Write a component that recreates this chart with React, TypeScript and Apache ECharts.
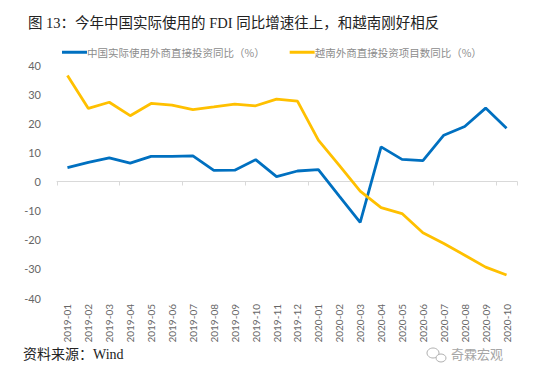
import React, { useEffect, useRef } from "react";
import * as echarts from "echarts";

const categories = [
  "2019-01", "2019-02", "2019-03", "2019-04", "2019-05", "2019-06", "2019-07", "2019-08",
  "2019-09", "2019-10", "2019-11", "2019-12", "2020-01", "2020-02", "2020-03", "2020-04",
  "2020-05", "2020-06", "2020-07", "2020-08", "2020-09", "2020-10",
];
const chinaFdi = [4.8, 6.6, 8.1, 6.3, 8.6, 8.6, 8.8, 3.8, 3.9, 7.5, 1.7, 3.6, 4.1, -5.0, -14.0, 11.9, 7.6, 7.2, 15.9, 18.9, 25.2, 18.3];
const vietnamFdi = [36.4, 25.1, 27.2, 22.6, 26.8, 26.2, 24.7, 25.6, 26.6, 26.0, 28.3, 27.6, 14.2, 5.5, -3.3, -9.0, -11.0, -17.6, -21.3, -25.3, -29.4, -32.1];
const seriesNames = ["中国实际使用外商直接投资同比（%）", "越南外商直接投资项目数同比（%）"];
const titleText = "图 13：今年中国实际使用的 FDI 同比增速往上，和越南刚好相反";
const sourceText = "资料来源：Wind";
const watermarkText = "奇霖宏观";

export default function App() {
  const ref = useRef<HTMLDivElement>(null);
  useEffect(() => {
    if (!ref.current) return;
    const chart = echarts.init(ref.current, undefined, { renderer: "svg" });
    const gray = "#666666";
    const serifCjk = "'Liberation Serif', 'Noto Sans CJK SC'";
    chart.setOption({
      animation: false,
      backgroundColor: "#ffffff",
      title: {
        text: titleText,
        left: 23,
        top: 11,
        textStyle: { fontFamily: serifCjk, fontSize: 14.5, fontWeight: "normal", color: "#222" },
      },
      legend: {
        top: 42,
        left: 57,
        itemWidth: 25,
        itemHeight: 3,
        itemGap: 25,
        icon: "rect",
        textStyle: { fontFamily: "Noto Sans CJK SC", fontSize: 10.5, color: "#8c8c8c", padding: [0, 0, 0, -5] },
        data: seriesNames,
      },
      grid: { left: 57, right: 33, top: 65, bottom: 83, containLabel: false },
      xAxis: [
        {
          type: "category",
          data: categories,
          boundaryGap: true,
          position: "bottom",
          axisLine: { show: false, onZero: false },
          axisTick: { show: false },
          axisLabel: { rotate: 90, margin: 6, fontSize: 10, color: gray, fontFamily: "Lato", interval: 0 },
        },
        {
          type: "category",
          data: categories,
          boundaryGap: true,
          position: "bottom",
          axisLine: { show: true, onZero: true, lineStyle: { color: "#d9d9d9", width: 1 } },
          axisTick: { show: true, length: 4, lineStyle: { color: "#d9d9d9" } },
          axisLabel: { show: false },
        },
      ],
      yAxis: {
        type: "value",
        min: -40,
        max: 40,
        interval: 10,
        axisLine: { show: false },
        axisTick: { show: false },
        splitLine: { show: false },
        axisLabel: { fontSize: 11, color: gray, fontFamily: "Lato", margin: 16 },
      },
      series: [
        {
          name: seriesNames[0],
          type: "line",
          data: chinaFdi,
          symbol: "none",
          lineStyle: { color: "#0070C0", width: 2.8 },
          itemStyle: { color: "#0070C0" },
        },
        {
          name: seriesNames[1],
          type: "line",
          data: vietnamFdi,
          symbol: "none",
          lineStyle: { color: "#FFC000", width: 2.8 },
          itemStyle: { color: "#FFC000" },
        },
      ],
      graphic: [
        {
          type: "text",
          left: 23,
          top: 347,
          style: { text: sourceText, font: `14px ${serifCjk}`, fill: "#222" },
        },
        {
          type: "ellipse",
          shape: { cx: 433, cy: 353, rx: 6, ry: 5 },
          style: { fill: "none", stroke: "#b0b0b0", lineWidth: 1 },
        },
        {
          type: "ellipse",
          shape: { cx: 441, cy: 358, rx: 5, ry: 4 },
          style: { fill: "#fff", stroke: "#b0b0b0", lineWidth: 1 },
        },
        {
          type: "text",
          left: 451,
          top: 347,
          style: { text: watermarkText, font: "13px 'Noto Sans CJK SC'", fill: "#a6a6a6" },
        },
      ],
    });
    return () => chart.dispose();
  }, []);
  return (
    <div
      ref={ref}
      style={{ position: "absolute", left: 0, top: 0, width: 550, height: 381 }}
    />
  );
}
